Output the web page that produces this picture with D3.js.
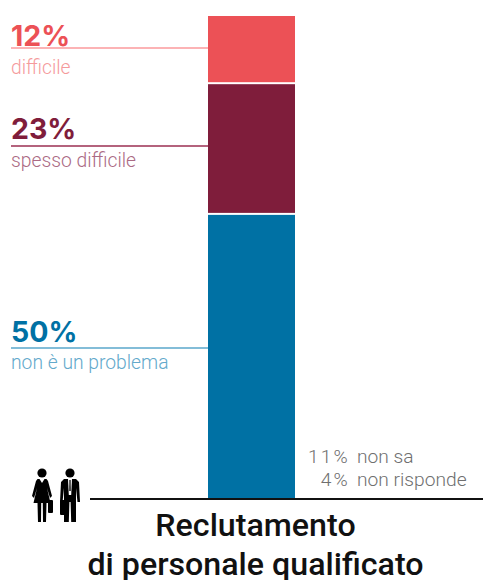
<!DOCTYPE html>
<html>
<head>
<meta charset="utf-8">
<script src="https://cdn.jsdelivr.net/npm/d3@7"></script>
<style>
  html, body { margin: 0; padding: 0; background: #fff; }
  svg { display: block; }
  text { font-family: Roboto, sans-serif; }
</style>
</head>
<body>
<svg id="chart" width="483" height="580"></svg>
<script>
// Survey answers, stacked from the baseline upward
const answers = ["non è un problema", "spesso difficile", "difficile"];
const shares = [50, 23, 12];
const fills = ["#0071a4", "#7f1d3b", "#ec5156"];
const leaderColours = ["#5aa7cb", "#9b2f52", "#fb9a9d"];
const answerColours = ["#63a9cb", "#ab6a84", "#f59a9c"];

// Answers outside the stack
const otherShares = ["11%", "4%"];
const otherAnswers = ["non sa", "non risponde"];
const titleLines = ["Reclutamento", "di personale qualificato"];

// Label placement per segment: leader height within the segment, then text offsets from it
const leaderFractions = [0.529, 0.52, 0.516];
const shareOffsets = [-6, -7, -2];
const answerOffsets = [21, 21, 26];

const svg = d3.select("#chart");
const baseline = 498;

const y = d3.scaleLinear().domain([0, 85]).range([baseline, 15]);
const x = d3.scaleBand().domain(["stack"]).range([208, 295]);

const stack = d3.stack().keys(answers)([
  Object.fromEntries(answers.map((a, i) => [a, shares[i]]))
]);

// Stacked column
svg.append("g").selectAll("rect").data(stack).join("rect")
  .attr("x", x("stack"))
  .attr("width", x.bandwidth())
  .attr("y", d => y(d[0][1]) + 1)
  .attr("height", (d, i) => y(d[0][0]) - y(d[0][1]) - (i === 0 ? 1 : 2))
  .attr("fill", (d, i) => fills[i]);

// Leaders and labels, hung from a position inside each segment
const labels = svg.append("g").selectAll("g").data(stack).join("g")
  .attr("transform", (d, i) => {
    const v = d[0][0] + (d[0][1] - d[0][0]) * leaderFractions[i];
    return `translate(0,${Math.round(y(v))})`;
  });

labels.append("line")
  .attr("x1", 11).attr("x2", 208)
  .attr("y1", 0).attr("y2", 0)
  .attr("stroke", (d, i) => leaderColours[i])
  .attr("stroke-width", 1.4);

labels.append("text")
  .attr("x", 11).attr("y", (d, i) => shareOffsets[i])
  .style("font-family", "Inter, sans-serif")
  .attr("font-size", 28.5).attr("font-weight", 650)
  .attr("fill", (d, i) => fills[i])
  .text((d, i) => shares[i] + "%");

labels.append("text")
  .attr("x", 11).attr("y", (d, i) => answerOffsets[i])
  .attr("font-size", 19.3).attr("font-weight", 300)
  .attr("fill", (d, i) => answerColours[i])
  .text((d, i) => answers[i]);

// Remaining answers, right of the column
const others = svg.append("g").selectAll("g").data(otherShares).join("g")
  .attr("transform", (d, i) => `translate(0,${463 + i * 23})`)
  .attr("fill", "#6f6f6f")
  .attr("font-size", 19.2).attr("font-weight", 300);
others.append("text").attr("x", 350).attr("text-anchor", "end")
  .attr("letter-spacing", 2.2).text(d => d);
others.append("text").attr("x", 357).text((d, i) => otherAnswers[i]);

// Baseline
svg.append("line")
  .attr("x1", 90).attr("x2", 483)
  .attr("y1", 499).attr("y2", 499)
  .attr("stroke", "#111").attr("stroke-width", 2);

// Title
svg.append("g").selectAll("text").data(titleLines).join("text")
  .attr("x", 255.5).attr("y", (d, i) => 536 + i * 39)
  .attr("text-anchor", "middle")
  .attr("font-size", 32.2).attr("font-weight", 500)
  .attr("fill", "#111")
  .text(d => d);

// Pictogram: woman and man with briefcases
const people = svg.append("g").attr("fill", "#000");
people.append("g").attr("transform", "translate(42,469)").call(g => {
  g.append("circle").attr("cx", 0).attr("cy", 4).attr("r", 4.6);
  g.append("path").attr("d", "M-4.5,10 L4.5,10 L6,12 L10,27 L8,29 L5,19 L8.5,34 L4.5,34 L4,53 L1,53 L0.8,34 L-0.8,34 L-1,53 L-4,53 L-4.5,34 L-8.5,34 L-5,19 L-8,29 L-10,27 L-6,12 Z");
  g.append("path").attr("d", "M-2.5,10 L2.5,10 L0,14 Z").attr("fill", "#fff");
  g.append("rect").attr("x", 6).attr("y", 31).attr("width", 5).attr("height", 13).attr("rx", 1);
});
people.append("g").attr("transform", "translate(70,469)").call(g => {
  g.append("circle").attr("cx", 0).attr("cy", 4).attr("r", 4.6);
  g.append("path").attr("d", "M-6,10 L6,10 L9,13 L10,33 L7.5,33 L6,19 L6,53 L1.2,53 L0.6,33 L-0.6,33 L-1.2,53 L-6,53 L-6,19 L-7.5,33 L-10,33 L-9,13 Z");
  g.append("path").attr("d", "M-2,10 L2,10 L1.2,26 L-1.2,26 Z").attr("fill", "#fff");
  g.append("path").attr("d", "M-0.6,11 L0.6,11 L0.7,22 L-0.7,22 Z");
  g.append("rect").attr("x", -10).attr("y", 31).attr("width", 5).attr("height", 15).attr("rx", 1);
});
</script>
</body>
</html>
